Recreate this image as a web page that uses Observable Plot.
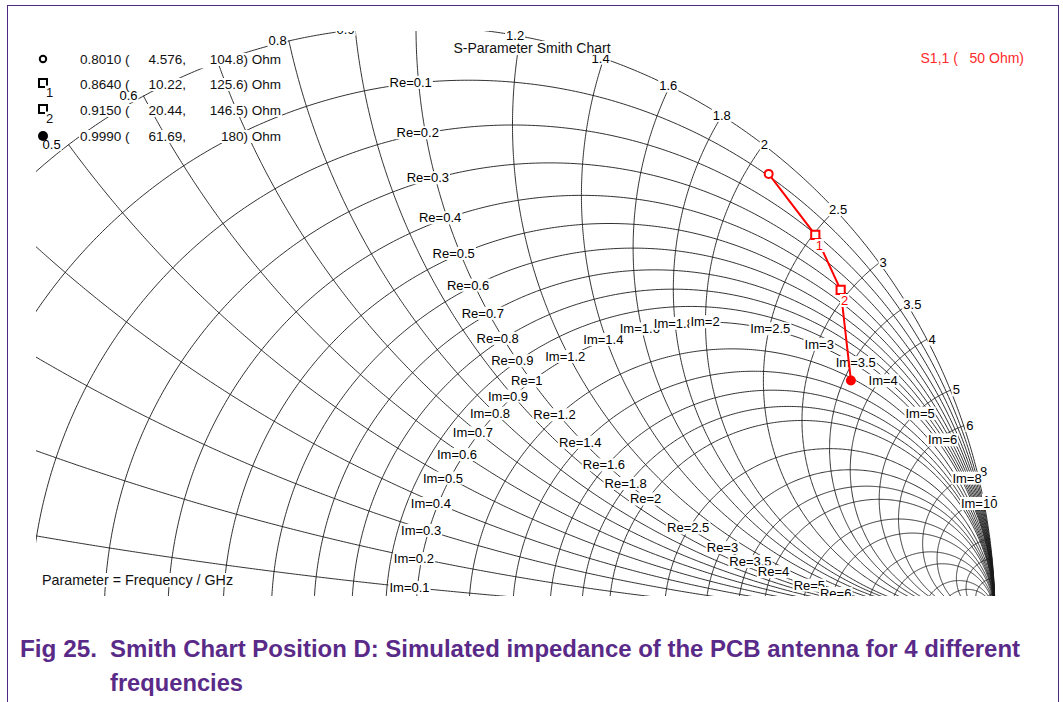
<!DOCTYPE html>
<html><head><meta charset="utf-8">
<script src="https://cdn.jsdelivr.net/npm/d3@7"></script>
<script src="https://cdn.jsdelivr.net/npm/@observablehq/plot@0.6"></script>
<style>
body{margin:0;background:#fff;}
#wrap{position:relative;width:1063px;height:702px;overflow:hidden;background:#fff}
#chart{position:absolute;left:0;top:0}
#cap{position:absolute;left:0;top:612px}
#frame{position:absolute;left:7px;top:5px;width:1050px;height:760px;border:1.5px solid #4e2b80;border-bottom:none;pointer-events:none}
</style></head><body>
<div id="wrap"><div id="chart"></div><svg id="cap" width="1063" height="90"></svg><div id="frame"></div></div>
<script>
// ---- data ----
const resistanceCircles = [0.1,0.2,0.3,0.4,0.5,0.6,0.7,0.8,0.9,1,1.2,1.4,1.6,1.8,2,2.5,3,3.5,4,5,6,8,10,15,20,30,50];
const reactanceArcs = [0.1,0.2,0.3,0.4,0.5,0.6,0.7,0.8,0.9,1,1.2,1.4,1.6,1.8,2,2.5,3,3.5,4,5,6,8,10,15,20,30,50];
const reLabelValues = [0.1,0.2,0.3,0.4,0.5,0.6,0.7,0.8,0.9,1,1.2,1.4,1.6,1.8,2,2.5,3,3.5,4,5,6,8];
const imLabelValues = [0.1,0.2,0.3,0.4,0.5,0.6,0.7,0.8,0.9,1,1.2,1.4,1.6,1.8,2,2.5,3,3.5,4,5,6,8,10];
const rimLabelValues = [0.5,0.6,0.7,0.8,0.9,1,1.2,1.4,1.6,1.8,2,2.5,3,3.5,4,5,6,8,10];
const frequenciesGHz = [0.801, 0.864, 0.915, 0.999];
const resistanceOhm = [4.576, 10.22, 20.44, 61.69];
const reactanceOhm = [104.8, 125.6, 146.5, 180];
const markerShapes = ["open", "square", "square", "filled"];
const markerNames = ["", "1", "2", ""];
const z0 = 50;

// ---- helpers ----
function gamma(r, x) {
  const dr = r + 1, nr = r - 1, den = dr * dr + x * x;
  return [(nr * dr + x * x) / den, (2 * x) / den];
}
const RX = 579, CX = 415.5, RY = 591, Y0 = 617;
const grid = [];
resistanceCircles.forEach((r, i) => {
  const c = r / (1 + r), rho = 1 / (1 + r), n = 400;
  for (let k = 0; k <= n; k++) {
    const t = Math.PI * k / n;
    grid.push({id: "r" + i, gx: c + rho * Math.cos(t), gy: rho * Math.sin(t)});
  }
});
for (let k = 0; k <= 600; k++) {
  const t = Math.PI * k / 600;
  grid.push({id: "unit", gx: Math.cos(t), gy: Math.sin(t)});
}
reactanceArcs.forEach((x, i) => {
  const cy = 1 / x, rho = 1 / x;
  const [ex, ey] = gamma(0, x);
  let end = Math.atan2(ey - cy, ex - 1);
  if (end > -Math.PI / 2) end -= 2 * Math.PI;
  const n = 400;
  for (let k = 0; k <= n; k++) {
    const a = -Math.PI / 2 + (end + Math.PI / 2) * k / n;
    grid.push({id: "x" + i, gx: 1 + rho * Math.cos(a), gy: cy + rho * Math.sin(a)});
  }
});
// label nudge: labels sit slightly outward from the grid crossings (in pixels)
const nudge = gx => gx + (-8 + 15 * gx) / RX;
const lab = (g, t) => ({gx: nudge(g[0]), gy: g[1], t});
const reLabels = reLabelValues.map(r => lab(gamma(r, 1), "Re=" + r));
const imLabels = imLabelValues.map(x => lab(gamma(1, x), "Im=" + x));
const rimLabels = rimLabelValues.map(x => lab(gamma(0, x), String(x)));
const pts = frequenciesGHz.map((f, i) => {
  const g = gamma(resistanceOhm[i] / z0, reactanceOhm[i] / z0);
  return {f, gx: g[0], gy: g[1], shape: markerShapes[i], name: markerNames[i]};
});

const FONT = "Liberation Sans, Arial, sans-serif";
const lbl = {fill: "black", fontSize: 13, fontFamily: FONT};

const plot = Plot.plot({
  width: 1063, height: 612,
  marginTop: 31, marginLeft: 36, marginBottom: 16, marginRight: 55,
  x: {type: "linear", domain: [-1, 1], range: [CX - RX, CX + RX], axis: null},
  y: {type: "linear", domain: [-1, 1], range: [Y0 + RY, Y0 - RY], axis: null},
  style: {background: "white", fontFamily: FONT},
  marks: [
    Plot.line(grid, {x: "gx", y: "gy", z: "id", stroke: "#1a1a1a", strokeWidth: 0.9, clip: true}),
    Plot.text(rimLabels, {x: "gx", y: "gy", text: "t", ...lbl, clip: true}),
    Plot.text(imLabels, {x: "gx", y: "gy", text: "t", ...lbl, clip: true}),
    Plot.text(reLabels, {x: "gx", y: "gy", text: "t", ...lbl, clip: true}),
    Plot.line(pts, {x: "gx", y: "gy", stroke: "#ff0000", strokeWidth: 2}),
    Plot.dot(pts.filter(d => d.shape === "open"), {x: "gx", y: "gy", r: 4, stroke: "#ff0000", strokeWidth: 2, fill: "white"}),
    Plot.dot(pts.filter(d => d.shape === "square"), {x: "gx", y: "gy", symbol: "square", r: 4.6, stroke: "#ff0000", strokeWidth: 2, fill: "white"}),
    Plot.text(pts.filter(d => d.name), {x: "gx", y: "gy", text: "name", dx: 4, dy: 11, fill: "#ff0000", fontSize: 13, fontFamily: FONT}),
    Plot.dot(pts.filter(d => d.shape === "filled"), {x: "gx", y: "gy", r: 5, fill: "#ff0000"})
  ]
});
document.getElementById("chart").appendChild(plot);

// white boxes behind every text, as in the reference
function boxText(node, pad) {
  const b = node.getBBox();
  const rect = document.createElementNS("http://www.w3.org/2000/svg", "rect");
  rect.setAttribute("x", b.x - pad); rect.setAttribute("y", b.y + 1);
  rect.setAttribute("width", b.width + 2 * pad); rect.setAttribute("height", Math.max(0, b.height - 2));
  rect.setAttribute("fill", "white");
  const tr = node.getAttribute("transform");
  if (tr) rect.setAttribute("transform", tr);
  node.parentNode.insertBefore(rect, node);
  return rect;
}
d3.select(plot).selectAll("g[aria-label='text'] text").each(function() { boxText(this, 1); });

// ---- annotations (title, legend) ----
const svg = d3.select(plot);
const ann = svg.append("g").attr("font-family", FONT).attr("font-size", 13.5);
function htext(x, y, s, anchor, color, size, box = true) {
  const t = ann.append("text").attr("x", x).attr("y", y).attr("dy", "0.35em")
    .attr("text-anchor", anchor || "start").attr("fill", color || "#111")
    .style("white-space", "pre").text(s);
  if (size) t.attr("font-size", size);
  if (box) boxText(t.node(), 1);
  return t;
}
htext(532, 48, "S-Parameter Smith Chart", "middle", null, 14);
htext(1024, 58, "S1,1 (   50 Ohm)", "end", "#ff2a2a", 14);
htext(42, 580, "Parameter = Frequency / GHz", "start", null, 14.3);
const rowY = [59, 84, 110, 136];
const f4 = d3.format(".4f"), g4 = d3.format(".4~g");
pts.forEach((d, i) => {
  const y = rowY[i];
  ann.append("rect").attr("x", 79).attr("y", y - 6).attr("width", 203).attr("height", 13).attr("fill", "white");
  htext(80, y, f4(d.f) + " (", "start", null, null, false);
  htext(186, y, g4(resistanceOhm[i]) + ",", "end", null, null, false);
  htext(281, y, g4(reactanceOhm[i]) + ") Ohm", "end", null, null, false);
  if (d.shape === "open") ann.append("circle").attr("cx", 43).attr("cy", y).attr("r", 3.2).attr("fill", "white").attr("stroke", "black").attr("stroke-width", 2);
  if (d.shape === "filled") ann.append("circle").attr("cx", 43).attr("cy", y).attr("r", 5).attr("fill", "black");
  if (d.shape === "square") {
    ann.append("rect").attr("x", 39).attr("y", y - 5).attr("width", 8).attr("height", 8).attr("fill", "none").attr("stroke", "black").attr("stroke-width", 2);
    htext(46, y + 8, d.name, "start", null, 13);
  }
});

// ---- caption ----
const cap = d3.select("#cap").attr("font-family", FONT).attr("font-weight", "bold").attr("font-size", 23).attr("fill", "#5a2a88");
cap.append("text").attr("x", 20).attr("y", 45).attr("textLength", 77).attr("lengthAdjust", "spacingAndGlyphs").text("Fig 25.");
cap.append("text").attr("x", 110).attr("y", 45).attr("textLength", 910).attr("lengthAdjust", "spacingAndGlyphs").text("Smith Chart Position D: Simulated impedance of the PCB antenna for 4 different");
cap.append("text").attr("x", 110).attr("y", 79).attr("textLength", 133).attr("lengthAdjust", "spacingAndGlyphs").text("frequencies");
</script>
</body></html>
